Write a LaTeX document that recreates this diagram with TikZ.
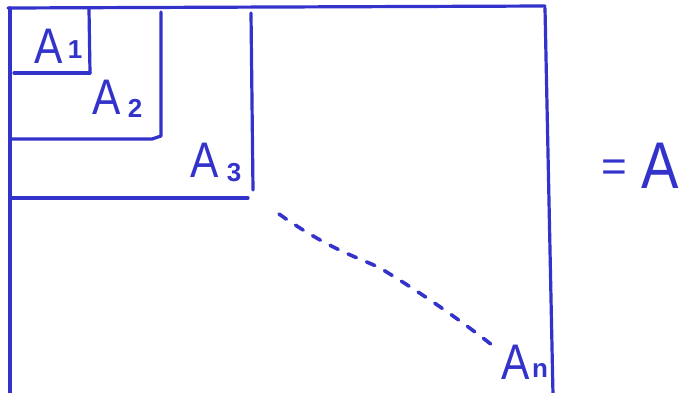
\documentclass[tikz,border=0pt]{standalone}
\usepackage{fontspec}
\setmainfont{Liberation Sans}
\definecolor{pen}{HTML}{3333CC}
\begin{document}
\begin{tikzpicture}[x=1pt,y=-1pt,
  stroke/.style={draw=pen,line width=3.2pt,line cap=round,line join=round},
  lab/.style={text=pen,font=\fontsize{50}{50}\selectfont,inner sep=0pt,xscale=0.85},
  sub/.style={text=pen,font=\fontsize{26}{26}\selectfont\bfseries,inner sep=0pt}]
\useasboundingbox (0,0) rectangle (681,392);
% outer frame
\draw[stroke] (8,8) -- (545,6);
\draw[stroke] (10,8) -- (10,395);
\draw[stroke] (545,8) -- (553,395);
% A1
\draw[stroke] (89,9) -- (90,73);
\draw[stroke] (14,73) -- (90,73);
% A2
\draw[stroke] (161,12) -- (161,136) -- (152,139) -- (10,139);
% A3
\draw[stroke] (251,13) -- (253,190);
\draw[stroke] (12,198) -- (248,198);
% dashed diagonal
\draw[stroke,line width=3.6pt,dash pattern=on 9pt off 11pt] (279,214) .. controls (330,250) and (360,258) .. (380,268) .. controls (420,292) and (460,320) .. (492,345);
% labels
\node[lab] (a1) at (49,46) {A};
\node[sub] (s1) at (75,50) {1};
\node[lab] (a2) at (107,97) {A};
\node[sub] (s2) at (135,108) {2};
\node[lab] (a3) at (205,160) {A};
\node[sub] (s3) at (234,173) {3};
\node[lab] (an) at (516,362) {A};
\node[sub] (sn) at (540,370) {n};
\node[sub,font=\fontsize{44}{44}\selectfont] (eq) at (614,171) {=};
\node[lab,font=\fontsize{66}{66}\selectfont] (aa) at (660,166) {A};
\end{tikzpicture}
\end{document}
